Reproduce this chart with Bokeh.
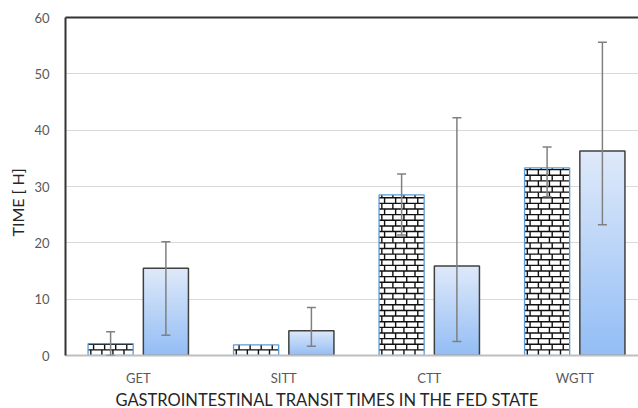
import math
import numpy as np
from bokeh.plotting import figure
from bokeh.models import (ColumnDataSource, Whisker, TeeHead, FixedTicker, LinearAxis, Title)
from bokeh.embed import file_html
from bokeh.resources import INLINE

# ---- data ----
categories = ["GET", "SITT", "CTT", "WGTT"]
hatched_vals = [2.1, 1.9, 28.5, 33.3]
hatched_low = [0.0, None, 21.4, 28.2]
hatched_high = [4.2, None, 32.2, 37.0]
blue_vals = [15.5, 4.4, 15.9, 36.3]
blue_low = [3.6, 1.65, 2.5, 23.2]
blue_high = [20.2, 8.5, 42.2, 55.6]
y_ticks = [0, 10, 20, 30, 40, 50, 60]

FONT = "Lato"
centers = [i + 0.5 for i in range(len(categories))]
OFF = 0.19
BW = 0.31

p = figure(frame_width=574, frame_height=338, output_backend="svg", toolbar_location=None,
           x_range=(0, 3.945), y_range=(0, 60),
           min_border_left=64, min_border_right=0, min_border_top=17, min_border_bottom=53)
p.outline_line_color = None
p.background_fill_color = "white"

p.xgrid.grid_line_color = None
p.ygrid.grid_line_color = "#d9d9d9"
p.ygrid.grid_line_width = 1
p.ygrid.ticker = FixedTicker(ticks=y_ticks)

# ---- gradient blue bars ----
def rgba(r, g, b):
    return np.uint32((255 << 24) | (b << 16) | (g << 8) | r)

n = 64
top_c = np.array([223, 234, 250], dtype=float)
bot_c = np.array([148, 190, 245], dtype=float)
for c, v in zip(centers, blue_vals):
    img = np.zeros((n, 1), dtype=np.uint32)
    for k in range(n):
        t = k / (n - 1)
        col = bot_c + (top_c - bot_c) * t
        img[k, 0] = rgba(int(col[0]), int(col[1]), int(col[2]))
    p.image_rgba(image=[img], x=c + OFF - BW / 2, y=0, dw=BW, dh=v)

blue_src = ColumnDataSource(dict(x=[c + OFF for c in centers], top=blue_vals))
p.vbar(x="x", top="top", bottom=0, width=BW, source=blue_src,
       fill_color=None, line_color="#404040", line_width=1.5)

# ---- brick-patterned bars ----
hat_src = ColumnDataSource(dict(x=[c - OFF for c in centers], top=hatched_vals))
p.vbar(x="x", top="top", bottom=0, width=BW, source=hat_src,
       fill_color="white", line_color=None)

ROW = 1.0      # brick row height (y units)
BRICK = 0.076  # brick width (x units)
sx0, sy0, sx1, sy1 = [], [], [], []
for c, v in zip(centers, hatched_vals):
    xl = c - OFF - BW / 2
    xr = c - OFF + BW / 2
    nrows = int(math.ceil(v / ROW - 1e-9))
    for k in range(nrows):
        y0 = k * ROW
        y1 = min(y0 + ROW, v)
        if k > 0:
            sx0.append(xl); sy0.append(y0); sx1.append(xr); sy1.append(y0)
        xs = xl + (0.5 * BRICK if k % 2 else 0.25 * BRICK)
        while xs < xr - 1e-6:
            sx0.append(xs); sy0.append(y0); sx1.append(xs); sy1.append(y1)
            xs += BRICK
p.segment(x0=sx0, y0=sy0, x1=sx1, y1=sy1, line_color="#111111", line_width=1.4)

p.vbar(x="x", top="top", bottom=0, width=BW, source=hat_src,
       fill_color=None, line_color="#5b9bd5", line_width=1.3)

# ---- error bars ----
ex, el, eh = [], [], []
for c, lo, hi in zip(centers, hatched_low, hatched_high):
    if lo is not None:
        ex.append(c - OFF); el.append(lo); eh.append(hi)
for c, lo, hi in zip(centers, blue_low, blue_high):
    ex.append(c + OFF); el.append(lo); eh.append(hi)
err_src = ColumnDataSource(dict(x=ex, low=el, high=eh))
w = Whisker(base="x", lower="low", upper="high", source=err_src, level="annotation",
            line_color="#808080", line_width=1.5,
            upper_head=TeeHead(size=9, line_color="#808080", line_width=1.5),
            lower_head=TeeHead(size=9, line_color="#808080", line_width=1.5))
p.add_layout(w)

# ---- axes ----
xa = p.xaxis[0]
xa.ticker = FixedTicker(ticks=centers)
xa.major_label_overrides = {c: name for c, name in zip(centers, categories)}
xa.axis_line_color = "#bfbfbf"
xa.axis_line_width = 2
xa.major_tick_line_color = None
xa.minor_tick_line_color = None
xa.major_label_text_font = FONT
xa.major_label_text_font_size = "13px"
xa.major_label_text_color = "#595959"
xa.major_label_standoff = 8

ya = p.yaxis[0]
ya.ticker = FixedTicker(ticks=y_ticks)
ya.axis_line_color = "#333333"
ya.axis_line_width = 2
ya.major_tick_line_color = None
ya.minor_tick_line_color = None
ya.major_label_text_font = FONT
ya.major_label_text_font_size = "13px"
ya.major_label_text_color = "#595959"
ya.major_label_standoff = 10

top_axis = LinearAxis(axis_line_color="#333333", axis_line_width=2,
                      major_tick_line_color=None, minor_tick_line_color=None,
                      major_label_text_font_size="0px", ticker=FixedTicker(ticks=[]))
p.add_layout(top_axis, "above")

xt = Title(text="GASTROINTESTINAL TRANSIT TIMES IN THE FED STATE", align="left", offset=50,
           vertical_align="top",
           text_font=FONT, text_font_size="16.5px", text_font_style="normal",
           text_color="#262626", standoff=2)
p.add_layout(xt, "below")

yt = Title(text="TIME [ H]", align="left", offset=119,
           text_font=FONT, text_font_size="16px", text_font_style="normal",
           text_color="#262626", standoff=10)
p.add_layout(yt, "left")

open("out.html", "w").write(file_html(p, INLINE))
